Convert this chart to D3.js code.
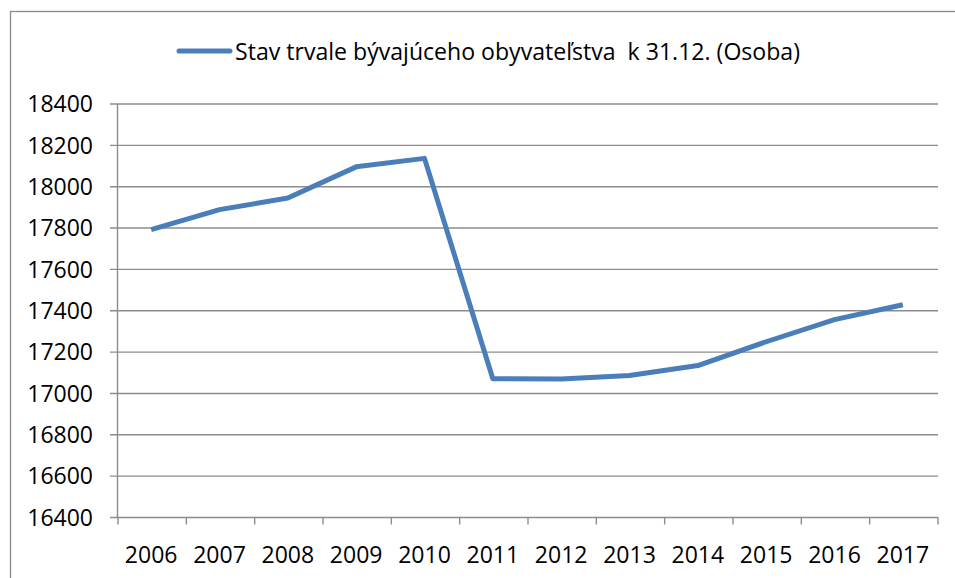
<!DOCTYPE html>
<html>
<head>
  <meta charset="utf-8">
  <script src="https://d3js.org/d3.v7.min.js"></script>
  <style>
    body { margin: 0; background: #fff; }
    text { font-family: "Open Sans", sans-serif; fill: #000; }
  </style>
</head>
<body>
  <div id="my_dataviz"></div>
  <script>
    // data
    var years = ["2006", "2007", "2008", "2009", "2010", "2011", "2012", "2013", "2014", "2015", "2016", "2017"];
    var population = [17792, 17889, 17945, 18096, 18137, 17071, 17070, 17087, 17135, 17250, 17357, 17429];
    var yTicks = [16400, 16600, 16800, 17000, 17200, 17400, 17600, 17800, 18000, 18200, 18400];
    var seriesName = "Stav trvale bývajúceho obyvateľstva  k 31.12. (Osoba)";

    var W = 955, H = 578;
    var blue = "#4a7ebb", grid = "#8c8c8c";

    var svg = d3.select("#my_dataviz")
      .append("svg")
      .attr("width", W)
      .attr("height", H);

    // outer chart frame (runs off the right and bottom edges)
    svg.append("rect")
      .attr("x", 10.5).attr("y", 11.5)
      .attr("width", 1000).attr("height", 1000)
      .attr("fill", "none")
      .attr("stroke", "#8a8a8a")
      .attr("stroke-width", 1.3);

    var x = d3.scaleBand()
      .domain(years)
      .range([118, 938])
      .paddingInner(0)
      .paddingOuter(0);

    var y = d3.scaleLinear()
      .domain([16400, 18400])
      .range([517.5, 104]);

    // horizontal gridlines
    svg.append("g")
      .selectAll("line")
      .data(yTicks)
      .enter()
      .append("line")
      .attr("x1", 110)
      .attr("x2", 938)
      .attr("y1", function (d) { return y(d) })
      .attr("y2", function (d) { return y(d) })
      .attr("stroke", grid)
      .attr("stroke-width", 1.4);

    // y axis line
    svg.append("line")
      .attr("x1", 117.5).attr("x2", 117.5)
      .attr("y1", y(18400)).attr("y2", y(16400))
      .attr("stroke", grid)
      .attr("stroke-width", 1.4);

    // y labels
    svg.append("g")
      .selectAll("text")
      .data(yTicks)
      .enter()
      .append("text")
      .attr("x", 93)
      .attr("y", function (d) { return y(d) })
      .attr("dy", "0.36em")
      .attr("text-anchor", "end")
      .style("font-size", "23px")
      .text(function (d) { return d });

    // x tick marks at band edges
    var edges = years.map(function (d) { return x(d) }).concat([x.range()[1]]);
    svg.append("g")
      .selectAll("line")
      .data(edges)
      .enter()
      .append("line")
      .attr("x1", function (d) { return d })
      .attr("x2", function (d) { return d })
      .attr("y1", y(16400))
      .attr("y2", y(16400) + 7)
      .attr("stroke", grid)
      .attr("stroke-width", 1.4);

    // x labels
    svg.append("g")
      .selectAll("text")
      .data(years)
      .enter()
      .append("text")
      .attr("x", function (d) { return x(d) + x.bandwidth() / 2 - 1 })
      .attr("y", 563)
      .attr("text-anchor", "middle")
      .style("font-size", "23px")
      .text(function (d) { return d });

    // the line
    var line = d3.line()
      .x(function (d, i) { return x(years[i]) + x.bandwidth() / 2 - 1 })
      .y(function (d) { return y(d) });

    svg.append("path")
      .datum(population)
      .attr("d", line)
      .attr("fill", "none")
      .attr("stroke", blue)
      .attr("stroke-width", 5)
      .attr("stroke-linejoin", "round");

    // legend
    svg.append("line")
      .attr("x1", 179).attr("x2", 230)
      .attr("y1", 51).attr("y2", 51)
      .attr("stroke", blue)
      .attr("stroke-width", 5)
      .attr("stroke-linecap", "round");

    svg.append("text")
      .attr("x", 235)
      .attr("y", 60)
      .attr("xml:space", "preserve")
      .attr("textLength", 565)
      .attr("lengthAdjust", "spacingAndGlyphs")
      .style("font-size", "23px")
      .text(seriesName);
  </script>
</body>
</html>
